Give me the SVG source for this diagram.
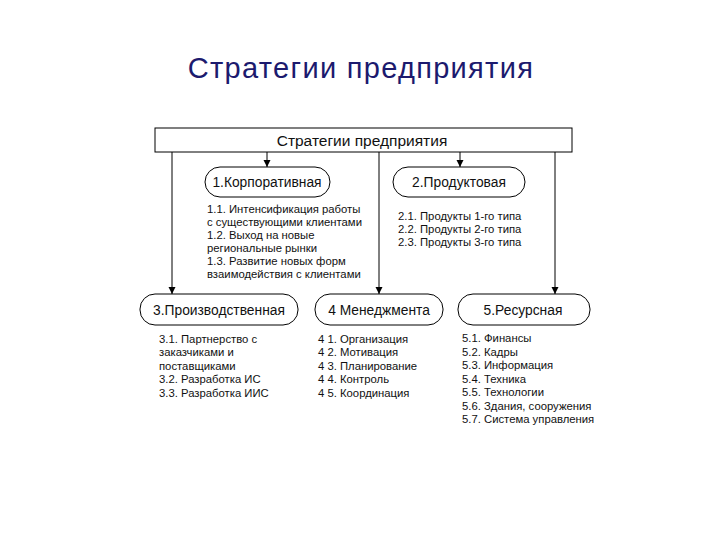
<svg xmlns="http://www.w3.org/2000/svg" width="720" height="540" viewBox="0 0 720 540">
<defs>
<marker id="arr" viewBox="0 0 10 10" refX="10" refY="5" markerWidth="7" markerHeight="9" markerUnits="userSpaceOnUse" orient="auto">
<path d="M0,0 L10,5 L0,10 z" fill="#000"/>
</marker>
<style>
.t{font-family:"Liberation Sans",Arial,sans-serif;fill:#111;}
.l{font-size:11.3px;}
.h{font-size:13.8px;text-anchor:middle;}
.box{fill:#fff;stroke:#000;stroke-width:1;}
.c{stroke:#000;stroke-width:1;fill:none;marker-end:url(#arr);}
</style>
</defs>
<rect width="720" height="540" fill="#fff"/>
<text x="361" y="78" font-family="Liberation Sans,Arial,sans-serif" font-size="29" letter-spacing="1.3" fill="#1c1a6e" text-anchor="middle">Стратегии предприятия</text>
<g id="connectors">
<line class="c" x1="172" y1="152" x2="172" y2="294"/>
<line class="c" x1="267" y1="152" x2="267" y2="167"/>
<line class="c" x1="379" y1="152" x2="379" y2="294"/>
<line class="c" x1="460" y1="152" x2="460" y2="167"/>
<line class="c" x1="555" y1="152" x2="555" y2="294"/>
</g>
<g id="top">
<rect class="box" x="155" y="128" width="417" height="24"/>
<text class="t" x="362" y="145.5" font-size="15.5" text-anchor="middle">Стратегии предприятия</text>
</g>
<g id="n1">
<rect class="box" x="205" y="167" width="125" height="30" rx="15"/>
<text class="t h" x="267" y="187">1.Корпоративная</text>
<text class="t l" x="207" y="213">1.1. Интенсификация работы</text>
<text class="t l" x="207" y="226">с существующими клиентами</text>
<text class="t l" x="207" y="239">1.2. Выход на новые</text>
<text class="t l" x="207" y="252">региональные рынки</text>
<text class="t l" x="207" y="265">1.3. Развитие новых форм</text>
<text class="t l" x="207" y="278">взаимодействия с клиентами</text>
</g>
<g id="n2">
<rect class="box" x="393" y="167" width="132" height="30" rx="15"/>
<text class="t h" x="459" y="187">2.Продуктовая</text>
<text class="t l" x="398" y="220">2.1. Продукты 1-го типа</text>
<text class="t l" x="398" y="233">2.2. Продукты 2-го типа</text>
<text class="t l" x="398" y="246">2.3. Продукты 3-го типа</text>
</g>
<g id="n3">
<rect class="box" x="140" y="294" width="158" height="31" rx="15"/>
<text class="t h" x="219" y="315">3.Производственная</text>
<text class="t l" x="159" y="343">3.1. Партнерство с</text>
<text class="t l" x="159" y="356">заказчиками и</text>
<text class="t l" x="159" y="370">поставщиками</text>
<text class="t l" x="159" y="383">3.2. Разработка ИС</text>
<text class="t l" x="159" y="397">3.3. Разработка ИИС</text>
</g>
<g id="n4">
<rect class="box" x="315" y="294" width="128" height="31" rx="15"/>
<text class="t h" x="379" y="315">4 Менеджмента</text>
<text class="t l" x="318" y="343">4 1. Организация</text>
<text class="t l" x="318" y="356">4 2. Мотивация</text>
<text class="t l" x="318" y="370">4 3. Планирование</text>
<text class="t l" x="318" y="383">4 4. Контроль</text>
<text class="t l" x="318" y="397">4 5. Координация</text>
</g>
<g id="n5">
<rect class="box" x="458" y="294" width="132" height="31" rx="15"/>
<text class="t h" x="523" y="315">5.Ресурсная</text>
<text class="t l" x="462" y="342">5.1. Финансы</text>
<text class="t l" x="462" y="356">5.2. Кадры</text>
<text class="t l" x="462" y="369">5.3. Информация</text>
<text class="t l" x="462" y="383">5.4. Техника</text>
<text class="t l" x="462" y="396">5.5. Технологии</text>
<text class="t l" x="462" y="410">5.6. Здания, сооружения</text>
<text class="t l" x="462" y="423">5.7. Система управления</text>
</g>
</svg>
